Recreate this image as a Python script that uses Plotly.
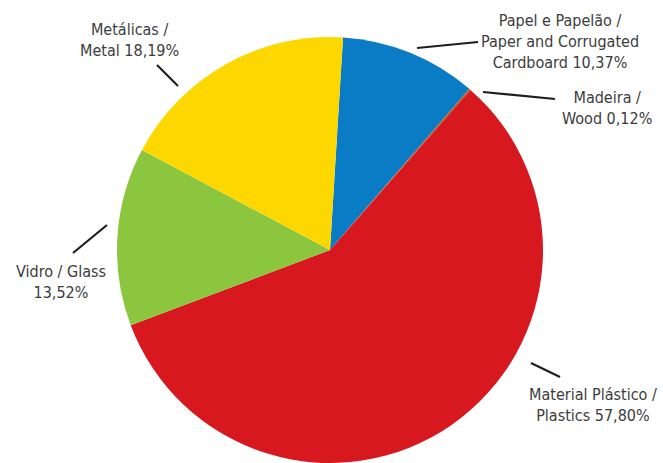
import plotly.graph_objects as go

W, H = 663, 463

labels = ["Papel e Papelão / Paper and Corrugated Cardboard", "Madeira / Wood",
          "Material Plástico / Plastics", "Vidro / Glass", "Metálicas / Metal"]
values = [10.37, 0.12, 57.80, 13.52, 18.19]
colors = ["#0a7cc5", "#b0602a", "#d7191f", "#8cc63f", "#fdd800"]
label_texts = [
    "Papel e Papelão /<br>Paper and Corrugated<br>Cardboard {}%",
    "Madeira /<br>Wood {}%",
    "Material Plástico /<br>Plastics {}%",
    "Vidro / Glass<br>{}%",
    "Metálicas /<br>Metal {}%",
]

def fmt(v):
    return f"{v:.2f}".replace(".", ",")

# label placement (pixels) and leader lines (pixels)
label_pos = [(560, 42), (607, 108), (593, 405), (61, 282), (129, 40)]
leaders = [((417, 48), (478, 42)), ((483, 92), (555, 99)), ((531, 363), (560, 377)),
           ((73, 253), (107, 225)), ((157, 65), (178, 86))]

cx, cy, r = 330, 250, 213

fig = go.Figure(go.Pie(
    labels=labels, values=values, sort=False, direction="clockwise", rotation=3.5,
    marker=dict(colors=colors, line=dict(width=0)),
    textinfo="none", hoverinfo="label+percent", showlegend=False,
    domain=dict(x=[(cx - r) / W, (cx + r) / W], y=[(H - cy - r) / H, (H - cy + r) / H]),
))

font = dict(family="DejaVu Sans Condensed, Liberation Sans Narrow, Arial Narrow, sans-serif",
            size=16, color="#3c3c3c")
for t, v, (x, y) in zip(label_texts, values, label_pos):
    fig.add_annotation(x=x / W, y=1 - y / H, xref="paper", yref="paper",
                       text=t.format(fmt(v)), showarrow=False, align="center",
                       xanchor="center", yanchor="middle", font=font)
for (x0, y0), (x1, y1) in leaders:
    fig.add_shape(type="line", xref="paper", yref="paper",
                  x0=x0 / W, y0=1 - y0 / H, x1=x1 / W, y1=1 - y1 / H,
                  line=dict(color="#1e1e1e", width=2.2))

fig.update_layout(width=W, height=H, margin=dict(l=0, r=0, t=0, b=0),
                  paper_bgcolor="white", plot_bgcolor="white")
fig.write_html("out.html")
